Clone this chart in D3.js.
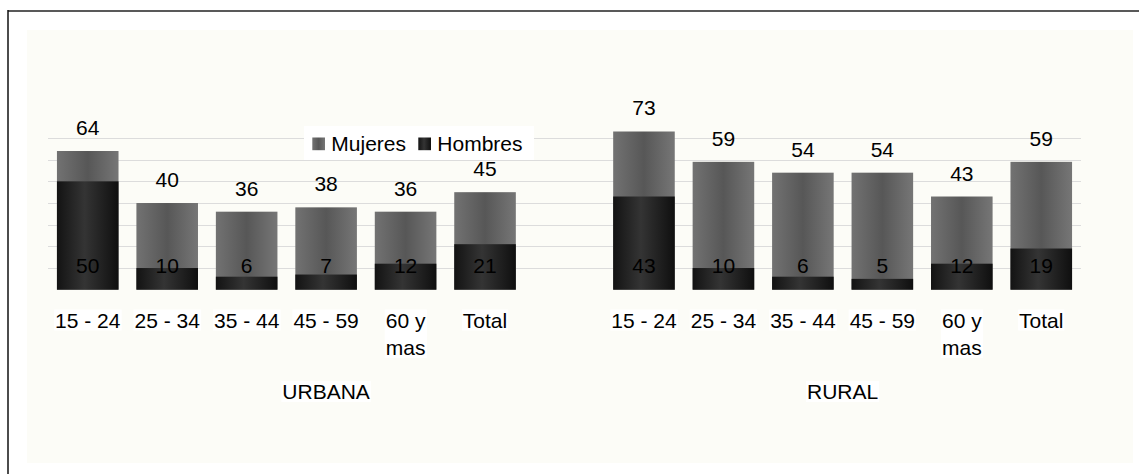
<!DOCTYPE html>
<html>
<head>
<meta charset="utf-8">
<script src="https://cdn.jsdelivr.net/npm/d3@7"></script>
<style>
  html, body { margin: 0; padding: 0; background: #ffffff; }
  svg { display: block; font-family: "Liberation Sans", Arial, sans-serif; }
</style>
</head>
<body>
<svg id="chart" width="1139" height="474"></svg>
<script>
// Age groups shown in each area
const ageGroups = ["15 - 24", "25 - 34", "35 - 44", "45 - 59", "60 y mas", "Total"];
const areas = ["URBANA", "RURAL"];

// Values per area (Mujeres drawn behind, Hombres in front)
const urbanaMujeres = [64, 40, 36, 38, 36, 45];
const urbanaHombres = [50, 10, 6, 7, 12, 21];
const ruralMujeres  = [73, 59, 54, 54, 43, 59];
const ruralHombres  = [43, 10, 6, 5, 12, 19];

const gridTicks = [10, 20, 30, 40, 50, 60, 70];
const seriesNames = ["Mujeres", "Hombres"];

const W = 1139, H = 474;
const svg = d3.select("#chart");

// Rows: urban groups, one spacer slot, rural groups
const rows = [];
ageGroups.forEach((g, i) => rows.push({ key: "U" + i, area: 0, label: g, m: urbanaMujeres[i], h: urbanaHombres[i] }));
rows.push({ key: "gap", area: 0, label: null });
ageGroups.forEach((g, i) => rows.push({ key: "R" + i, area: 1, label: g, m: ruralMujeres[i], h: ruralHombres[i] }));

const x = d3.scaleBand()
  .domain(rows.map(r => r.key))
  .range([48, 1081])
  .paddingInner(0.225)
  .paddingOuter(0.1125);

const y = d3.scaleLinear().domain([0, 70]).range([289.7, 138]);

// Gradients for the bar fills
const defs = svg.append("defs");
function grad(id, stops) {
  const g = defs.append("linearGradient").attr("id", id)
    .attr("x1", "0%").attr("x2", "100%").attr("y1", "0%").attr("y2", "0%");
  stops.forEach(([o, c]) => g.append("stop").attr("offset", o).attr("stop-color", c));
}
grad("gMuj", [["0%", "#727272"], ["50%", "#575757"], ["100%", "#767676"]]);
grad("gHom", [["0%", "#131313"], ["45%", "#343434"], ["100%", "#0f0f0f"]]);
const fills = { Mujeres: "url(#gMuj)", Hombres: "url(#gHom)" };

// Frame
svg.append("rect").attr("x", 0).attr("y", 0).attr("width", W).attr("height", H).attr("fill", "#ffffff");
svg.append("rect").attr("x", 27).attr("y", 30).attr("width", 1106).attr("height", 433).attr("fill", "#fcfcf7");
svg.append("line").attr("x1", 8).attr("x2", 1139).attr("y1", 11).attr("y2", 11)
  .attr("stroke", "#595959").attr("stroke-width", 2);
svg.append("line").attr("x1", 8).attr("x2", 8).attr("y1", 10).attr("y2", H)
  .attr("stroke", "#111111").attr("stroke-width", 1.5);

// Gridlines
const [gx0, gx1] = x.range();
svg.append("g").selectAll("line").data(gridTicks).join("line")
  .attr("x1", gx0).attr("x2", gx1)
  .attr("y1", d => Math.round(y(d)) + 0.5).attr("y2", d => Math.round(y(d)) + 0.5)
  .attr("stroke", "#dcdcdc").attr("stroke-width", 1);

const data = rows.filter(r => r.label !== null);

// Bars: Mujeres (back), Hombres (front), both from the baseline
svg.append("g").selectAll("rect").data(data).join("rect")
  .attr("x", d => x(d.key)).attr("width", x.bandwidth())
  .attr("y", d => y(d.m)).attr("height", d => y(0) - y(d.m))
  .attr("fill", fills.Mujeres);
svg.append("g").selectAll("rect").data(data).join("rect")
  .attr("x", d => x(d.key)).attr("width", x.bandwidth())
  .attr("y", d => y(d.h)).attr("height", d => y(0) - y(d.h))
  .attr("fill", fills.Hombres);

const fs = 21;
// Value labels
svg.append("g").selectAll("text").data(data).join("text")
  .attr("x", d => x(d.key) + x.bandwidth() / 2)
  .attr("y", d => y(d.m) - 16)
  .attr("text-anchor", "middle").attr("font-size", fs).attr("fill", "#000")
  .text(d => d.m);
svg.append("g").selectAll("text").data(data).join("text")
  .attr("x", d => x(d.key) + x.bandwidth() / 2)
  .attr("y", y(0) - 16.5)
  .attr("text-anchor", "middle").attr("font-size", fs).attr("fill", "#000")
  .text(d => d.h);

// Category labels (wrap "60 y mas" onto two lines)
const catG = svg.append("g");
data.forEach(d => {
  const cx = x(d.key) + x.bandwidth() / 2;
  const lines = d.label === "60 y mas" ? ["60 y", "mas"] : [d.label];
  const t = catG.append("text").attr("text-anchor", "middle").attr("font-size", fs).attr("fill", "#000");
  lines.forEach((ln, i) => t.append("tspan").attr("x", cx).attr("y", 327.5 + i * 27.6).text(ln));
  const bb = t.node().getBBox();
  catG.insert("rect", () => t.node())
    .attr("x", bb.x - 1).attr("y", bb.y + 1).attr("width", bb.width + 2).attr("height", bb.height - 2)
    .attr("fill", "#ffffff");
});

// Area labels
const areaSpan = [rows.filter(r => r.area === 0), rows.filter(r => r.area === 1 && r.label)];
areas.forEach((a, i) => {
  const span = areaSpan[i];
  const x0 = x(span[0].key) - x.step() * x.paddingInner() / 2;
  const x1 = x(span[span.length - 1].key) + x.bandwidth() + x.step() * x.paddingInner() / 2;
  const t = svg.append("text").attr("x", (x0 + x1) / 2).attr("y", 399)
    .attr("text-anchor", "middle").attr("font-size", fs).attr("fill", "#000").text(a);
  const bb = t.node().getBBox();
  svg.insert("rect", () => t.node())
    .attr("x", bb.x - 1).attr("y", bb.y + 1).attr("width", bb.width + 2).attr("height", bb.height - 2)
    .attr("fill", "#ffffff");
});

// Legend
const lg = svg.append("g");
lg.append("rect").attr("x", 304).attr("y", 126).attr("width", 230).attr("height", 34).attr("fill", "#ffffff");
const legendX = [312.3, 418.3];
seriesNames.forEach((s, i) => {
  lg.append("rect").attr("x", legendX[i]).attr("y", 137.5).attr("width", 12.7).attr("height", 12.7)
    .attr("fill", fills[s]);
  lg.append("text").attr("x", legendX[i] + 19).attr("y", 151)
    .attr("font-size", fs).attr("fill", "#000").text(s);
});
</script>
</body>
</html>
